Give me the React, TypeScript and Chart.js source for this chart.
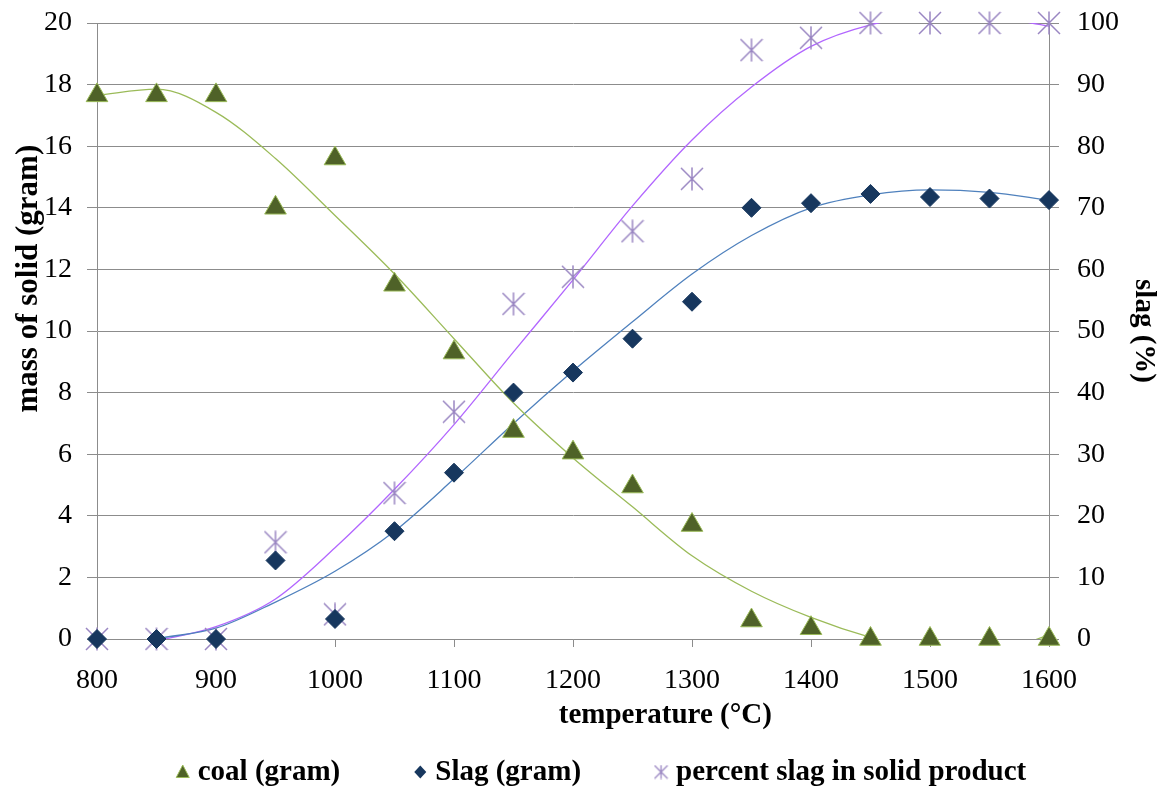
import React, { useEffect, useRef } from 'react';
import { Chart, registerables } from 'chart.js';

Chart.register(...registerables);

// ---- data ----
const temperatures = [800, 850, 900, 950, 1000, 1050, 1100, 1150, 1200, 1250, 1300, 1350, 1400, 1450, 1500, 1550, 1600];
const coalGram = [17.65, 17.65, 17.65, 14.0, 15.6, 11.5, 9.3, 6.75, 6.05, 4.95, 3.7, 0.6, 0.35, 0, 0, 0, 0];
const slagGram = [0, 0, 0, 2.55, 0.65, 3.5, 5.4, 8.0, 8.65, 9.75, 10.95, 14.0, 14.15, 14.45, 14.35, 14.3, 14.25];
const percentSlag = [0, 0, 0, 15.7, 4.0, 23.7, 36.9, 54.4, 58.8, 66.2, 74.7, 95.6, 97.6, 100, 100, 100, 100];

// trend lines (at the same temperatures)
const coalTrend = [17.65, 17.85, 17.1, 15.6, 13.75, 11.85, 9.75, 7.66, 5.88, 4.29, 2.7, 1.55, 0.7, 0.05, -0.4, -0.45, 0.13];
const slagTrend = [-0.5, 0.0, 0.35, 1.2, 2.2, 3.5, 5.2, 7.0, 8.7, 10.3, 11.85, 13.1, 14.0, 14.42, 14.58, 14.5, 14.25];
const percentTrend = [-2.5, -0.3, 2.0, 6.5, 14.8, 24.3, 34.8, 46.6, 58.3, 70.3, 81.0, 89.6, 96.2, 99.7, 101.2, 101.0, 99.5];

const xTicks = [800, 900, 1000, 1100, 1200, 1300, 1400, 1500, 1600];
const leftTicks = [0, 2, 4, 6, 8, 10, 12, 14, 16, 18, 20];
const rightTicks = [0, 10, 20, 30, 40, 50, 60, 70, 80, 90, 100];

const legendLabels = ['coal (gram)', 'Slag (gram)', 'percent slag in solid product'];
const xTitle = 'temperature (\u00B0C)';
const leftTitle = 'mass of solid (gram)';
const rightTitle = 'slag (%)';

// ---- styles ----
const FONT = "'Liberation Serif', 'Times New Roman', Times, serif";
const TICK_SIZE = 28;
const TITLE_SIZE = 29;
const COAL_FILL = '#4F6228';
const COAL_EDGE = '#9BBB59';
const COAL_LINE = '#9BBB59';
const SLAG_FILL = '#17375E';
const SLAG_LINE = '#4F81BD';
const PCT_MARK = '#9A86C2';
const PCT_LINE = '#B266FF';
const GRID = '#8C8C8C';

function makeAsterisk(w: number, h: number, color: string, lw: number) {
  const c = document.createElement('canvas');
  c.width = w;
  c.height = h;
  const g = c.getContext('2d')!;
  g.strokeStyle = color;
  g.lineWidth = lw;
  const cx = w / 2, cy = h / 2, rx = w / 2 - 1, ry = h / 2 - 1;
  g.beginPath();
  g.moveTo(cx - rx, cy - ry); g.lineTo(cx + rx, cy + ry);
  g.moveTo(cx + rx, cy - ry); g.lineTo(cx - rx, cy + ry);
  g.moveTo(cx, cy - ry - 0.5); g.lineTo(cx, cy + ry + 0.5);
  g.stroke();
  return c;
}

const pts = (ys: number[]) => temperatures.map((x, i) => ({ x, y: ys[i] }));

export default function App() {
  const ref = useRef<HTMLCanvasElement | null>(null);

  useEffect(() => {
    let chart: Chart | null = null;
    let cancelled = false;

    const build = () => {
      if (cancelled || !ref.current) return;
      const asterisk = makeAsterisk(24, 24, PCT_MARK, 1.5);
      const asteriskSmall = makeAsterisk(15, 15, PCT_MARK, 1.3);

      // axis titles placed like the original (x title right of centre, y title above centre)
      const titlePlugin = {
        id: 'placedTitles',
        afterDraw(c: any) {
          const ctx = c.ctx as CanvasRenderingContext2D;
          const a = c.chartArea;
          ctx.save();
          ctx.fillStyle = '#000';
          ctx.textAlign = 'center';
          ctx.textBaseline = 'middle';
          ctx.font = `bold ${TITLE_SIZE}px ${FONT}`;
          ctx.fillText(xTitle, a.left + a.width * 0.597, a.bottom + 77);
          ctx.translate(29, a.top + a.height * 0.415);
          ctx.rotate(-Math.PI / 2);
          ctx.font = `bold 31px ${FONT}`;
          ctx.fillText(leftTitle, 0, 0);
          ctx.restore();
        },
      };

      const legendPlugin = {
        id: 'customLegend',
        afterDraw(c: any) {
          const ctx = c.ctx as CanvasRenderingContext2D;
          ctx.save();
          ctx.font = `bold ${TITLE_SIZE}px ${FONT}`;
          ctx.textBaseline = 'middle';
          ctx.fillStyle = '#000';
          const markerW = 16, markerGap = 7, itemGap = 72;
          const widths = legendLabels.map((t) => ctx.measureText(t).width);
          const total = widths.reduce((a, w) => a + markerW + markerGap + w, 0) + itemGap * (legendLabels.length - 1);
          let x = c.width / 2 + 20 - total / 2;
          const y = c.height - 15;
          legendLabels.forEach((label, i) => {
            const mx = x + markerW / 2;
            if (i === 0) {
              ctx.beginPath();
              ctx.moveTo(mx, y - 7);
              ctx.lineTo(mx + 6.5, y + 5.5);
              ctx.lineTo(mx - 6.5, y + 5.5);
              ctx.closePath();
              ctx.fillStyle = COAL_FILL;
              ctx.fill();
              ctx.strokeStyle = COAL_EDGE;
              ctx.lineWidth = 1;
              ctx.stroke();
            } else if (i === 1) {
              ctx.beginPath();
              ctx.moveTo(mx, y - 6.5);
              ctx.lineTo(mx + 6, y);
              ctx.lineTo(mx, y + 6.5);
              ctx.lineTo(mx - 6, y);
              ctx.closePath();
              ctx.fillStyle = SLAG_FILL;
              ctx.fill();
            } else {
              ctx.drawImage(asteriskSmall, mx - 7.5, y - 7.5);
            }
            ctx.fillStyle = '#000';
            ctx.fillText(label, x + markerW + markerGap, y + 1);
            x += markerW + markerGap + widths[i] + itemGap;
          });
          ctx.restore();
        },
      };

      const noVPad = (s: any) => { s.paddingTop = 0; s.paddingBottom = 0; };

      chart = new Chart(ref.current, {
        type: 'scatter',
        data: {
          datasets: [
            {
              label: legendLabels[0],
              data: pts(coalGram),
              yAxisID: 'y',
              pointStyle: 'triangle',
              pointRadius: 12.5,
              backgroundColor: COAL_FILL,
              borderColor: COAL_EDGE,
              borderWidth: 1,
              showLine: false,
              clip: false as any,
            },
            {
              label: legendLabels[1],
              data: pts(slagGram),
              yAxisID: 'y',
              pointStyle: 'rectRot',
              pointRadius: 9.5,
              backgroundColor: SLAG_FILL,
              borderColor: SLAG_FILL,
              borderWidth: 1,
              showLine: false,
              clip: false as any,
            },
            {
              label: legendLabels[2],
              data: pts(percentSlag),
              yAxisID: 'y2',
              pointStyle: asterisk as any,
              pointRadius: 12,
              backgroundColor: PCT_MARK,
              borderColor: PCT_MARK,
              showLine: false,
              clip: false as any,
            },
            {
              label: 'coal trend',
              data: pts(coalTrend),
              yAxisID: 'y',
              showLine: true,
              pointRadius: 0,
              borderColor: COAL_LINE,
              borderWidth: 1.3,
              cubicInterpolationMode: 'monotone',
            },
            {
              label: 'slag trend',
              data: pts(slagTrend),
              yAxisID: 'y',
              showLine: true,
              pointRadius: 0,
              borderColor: SLAG_LINE,
              borderWidth: 1.3,
              cubicInterpolationMode: 'monotone',
            },
            {
              label: 'percent trend',
              data: pts(percentTrend),
              yAxisID: 'y2',
              showLine: true,
              pointRadius: 0,
              borderColor: PCT_LINE,
              borderWidth: 1.3,
              cubicInterpolationMode: 'monotone',
            },
          ] as any,
        },
        options: {
          responsive: false,
          animation: false,
          events: [],
          layout: { padding: { top: 23, left: 0, right: 0, bottom: 48 } },
          plugins: {
            legend: { display: false },
            tooltip: { enabled: false },
          },
          scales: {
            x: {
              type: 'linear',
              min: 800,
              max: 1600,
              afterFit: (s: any) => { s.height = 100; s.paddingLeft = 0; s.paddingRight = 0; },
              afterBuildTicks: (s: any) => { s.ticks = xTicks.map((v) => ({ value: v })); },
              ticks: {
                font: { family: FONT, size: TICK_SIZE },
                color: '#000',
                padding: 17,
                maxRotation: 0,
                callback: (v: any) => String(v),
              },
              grid: { drawOnChartArea: false, color: GRID, tickLength: 8 },
              border: { color: GRID, width: 1 },
              title: { display: false },
            },
            y: {
              type: 'linear',
              position: 'left',
              min: 0,
              max: 20,
              afterFit: (s: any) => { s.width = 97; noVPad(s); },
              afterBuildTicks: (s: any) => { s.ticks = leftTicks.map((v) => ({ value: v })); },
              ticks: { font: { family: FONT, size: TICK_SIZE }, color: '#000', padding: 15, callback: (v: any) => String(v) },
              grid: { color: GRID, tickLength: 10, lineWidth: 1 },
              border: { color: GRID, width: 1 },
              title: { display: false },
            },
            y2: {
              type: 'linear',
              position: 'right',
              min: 0,
              max: 100,
              afterFit: (s: any) => { s.width = 112; noVPad(s); },
              afterBuildTicks: (s: any) => { s.ticks = rightTicks.map((v) => ({ value: v })); },
              ticks: { font: { family: FONT, size: TICK_SIZE }, color: '#000', padding: 18, callback: (v: any) => String(v) },
              grid: { drawOnChartArea: false, color: GRID, tickLength: 10 },
              border: { color: GRID, width: 1 },
              title: {
                display: true,
                text: rightTitle,
                font: { family: FONT, size: TITLE_SIZE, weight: 'bold' },
                color: '#000',
                padding: { top: 0, bottom: 4 },
              },
            },
          },
        } as any,
        plugins: [titlePlugin, legendPlugin],
      });
    };

    const fonts: any = (document as any).fonts;
    if (fonts && fonts.load) {
      Promise.all([
        fonts.load(`${TICK_SIZE}px 'Liberation Serif'`),
        fonts.load(`bold ${TITLE_SIZE}px 'Liberation Serif'`),
      ]).then(build, build);
    } else {
      build();
    }

    return () => {
      cancelled = true;
      if (chart) chart.destroy();
    };
  }, []);

  return (
    <div style={{ position: 'absolute', left: 0, top: 0, width: 1161, height: 787, background: '#fff' }}>
      <canvas ref={ref} width={1161} height={787} style={{ display: 'block', width: 1161, height: 787 }} />
    </div>
  );
}
